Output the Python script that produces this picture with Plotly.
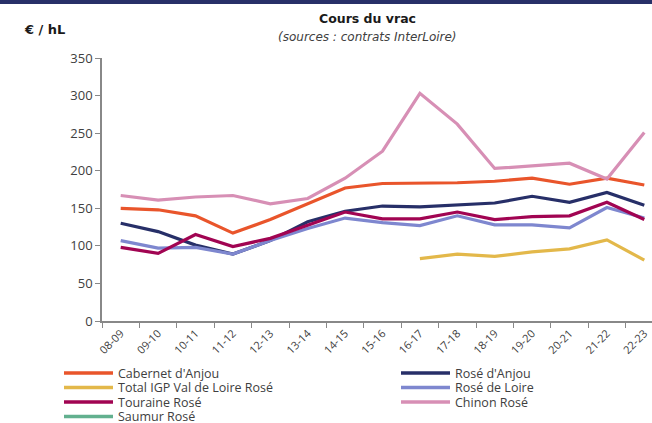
import plotly.graph_objects as go

seasons = ["08-09", "09-10", "10-11", "11-12", "12-13", "13-14", "14-15", "15-16",
           "16-17", "17-18", "18-19", "19-20", "20-21", "21-22", "22-23"]

cabernet_anjou = [150, 148, 140, 117, 135, 156, 177, 183, 183, 184, 186, 190, 182, 190, 181]
rose_anjou = [130, 119, 101, 89, 107, 132, 146, 153, 152, 155, 157, 166, 158, 171, 154]
total_igp = [None, None, None, None, None, None, None, None, 83, 89, 86, 92, 96, 108, 81]
rose_loire = [107, 97, 98, 89, 107, 123, 137, 131, 127, 140, 128, 128, 124, 151, 137]
touraine_rose = [98, 90, 115, 99, 110, 128, 145, 136, 136, 145, 135, 139, 140, 158, 135]
chinon_rose = [167, 161, 165, 167, 156, 163, 190, 226, 303, 262, 203, 206, 210, 189, 251]
saumur_rose = [None] * 15

series = [
    ("Cabernet d'Anjou", cabernet_anjou, "#E9552B"),
    ("Rosé d'Anjou", rose_anjou, "#272F68"),
    ("Total IGP Val de Loire Rosé", total_igp, "#E3B84A"),
    ("Rosé de Loire", rose_loire, "#7E87CF"),
    ("Touraine Rosé", touraine_rose, "#A10452"),
    ("Chinon Rosé", chinon_rose, "#D78FB5"),
    ("Saumur Rosé", saumur_rose, "#62B08F"),
]

FONT = "Open Sans"
TFONT = "DejaVu Sans"
fig = go.Figure()
for name, vals, col in series:
    fig.add_trace(go.Scatter(x=seasons, y=vals, name=name, mode="lines",
                             line=dict(color=col, width=3.2), showlegend=False,
                             hoverinfo="skip"))

W, H = 652, 423
L, R, T, B = 102, 0, 58, 102
pw = W - L - R
ph = H - T - B
CAT_W = 37.4

def px(x):
    return (x - L) / pw

def py(y):
    return (H - B - y) / ph

shapes = [dict(type="rect", xref="paper", yref="paper", x0=px(0), x1=px(W),
               y0=py(4), y1=py(-2), fillcolor="#283068", line=dict(width=0), layer="above")]
annotations = [
    dict(text="<b>Cours du vrac</b>", xref="paper", yref="paper", x=px(367), y=py(19),
         xanchor="center", yanchor="middle", showarrow=False,
         font=dict(family=TFONT, size=12.5, color="#1a1a1a")),
    dict(text="<i>(sources : contrats InterLoire)</i>", xref="paper", yref="paper",
         x=px(367), y=py(37), xanchor="center", yanchor="middle", showarrow=False,
         font=dict(family=TFONT, size=12, color="#404040")),
    dict(text="<b>€ / hL</b>", xref="paper", yref="paper", x=px(22), y=py(29),
         xanchor="left", yanchor="middle", showarrow=False,
         font=dict(family=TFONT, size=13, color="#1a1a1a")),
]

# legend: two columns, filled row-wise in series order
col_x = [64, 401]
row_y0, row_dy = 373, 14.5
for i, (name, vals, col) in enumerate(series):
    cx = col_x[i % 2]
    cy = row_y0 + (i // 2) * row_dy
    shapes.append(dict(type="line", xref="paper", yref="paper",
                       x0=px(cx), x1=px(cx + 49), y0=py(cy), y1=py(cy),
                       line=dict(color=col, width=3.5)))
    annotations.append(dict(text=name, xref="paper", yref="paper", x=px(cx + 52), y=py(cy),
                            xanchor="left", yanchor="middle", showarrow=False,
                            font=dict(family=FONT, size=12.5, color="#404040")))

fig.update_layout(
    width=W, height=H,
    margin=dict(l=L, r=R, t=T, b=B, pad=0, autoexpand=False),
    paper_bgcolor="white", plot_bgcolor="white",
    font=dict(family=FONT, size=12, color="#404040"),
    showlegend=False,
    xaxis=dict(type="category", range=[-0.5, -0.5 + pw / CAT_W], tickangle=-45,
               tickson="boundaries", ticks="outside", ticklen=5, tickcolor="#888888",
               tickwidth=1.3,
               showline=True, linecolor="#888888", linewidth=1.5, showgrid=False,
               tickfont=dict(size=11, color="#404040")),
    yaxis=dict(range=[0, 350], tickvals=[0, 50, 100, 150, 200, 250, 300, 350],
               ticks="outside", ticklen=5, tickcolor="#888888", tickwidth=1.3,
               showline=True, linecolor="#888888", linewidth=1.5, showgrid=False,
               zeroline=False, tickfont=dict(size=13, color="#404040")),
    shapes=shapes,
    annotations=annotations,
)

fig.write_html("out.html", config={"displayModeBar": False})

# remove the browser's default page margin so the figure sits at (0, 0)
with open("out.html", encoding="utf-8") as f:
    html = f.read()
html = html.replace("<head>", "<head><style>html,body{margin:0;padding:0;overflow:hidden;}</style>", 1)
with open("out.html", "w", encoding="utf-8") as f:
    f.write(html)
